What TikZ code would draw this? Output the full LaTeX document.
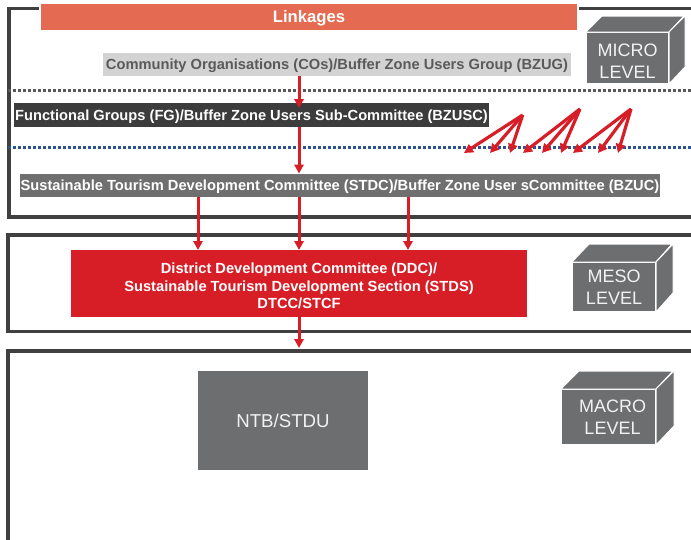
\documentclass[tikz,border=0pt]{standalone}
\usepackage{fontspec}
\setmainfont{Liberation Sans}
\usetikzlibrary{arrows.meta,calc}
\definecolor{frameg}{HTML}{404040}
\definecolor{linkc}{HTML}{E46B51}
\definecolor{cobg}{HTML}{D3D3D3}
\definecolor{cotxt}{HTML}{5A5A5A}
\definecolor{fgbg}{HTML}{3C3C3C}
\definecolor{stbg}{HTML}{6F6F6F}
\definecolor{ddcred}{HTML}{D71E26}
\definecolor{cubeg}{HTML}{6D6E70}
\definecolor{dotg}{HTML}{595959}
\definecolor{dotb}{HTML}{2E5395}
\newdimen\pu \pu=0.75pt
\begin{document}
\begin{tikzpicture}[x=0.75pt,y=-0.75pt,
  frameline/.style={draw=frameg,line width=2.8pt},
  box/.style={inner sep=0pt,outer sep=0pt,align=center,font=\bfseries\fontsize{11}{13}\selectfont},
  onebox/.style={box,text height=7.9pt,text depth=0pt},
  arr/.style={draw=ddcred,line width=2.25pt,-{Triangle[length=6.75pt,width=7pt]}},
  fanarr/.style={draw=ddcred,line width=2.4pt,-{Triangle[length=6.75pt,width=7pt]}},
  dotline/.style={line width=2.25pt,dash pattern=on 2.25pt off 1.5pt},
  cubeface/.style={fill=cubeg,draw=white,line width=0.75pt},
  lvl/.style={cubeface,inner sep=0pt,align=center,text=white!95!black,font=\fontsize{13.5}{16.8}\selectfont}]
\useasboundingbox (0,0) rectangle (691,539);
% frames
\draw[frameline] (691,8.5) -- (9,8.5) -- (9,217) -- (700,217);
\draw[frameline] (700,235) -- (8,235) -- (8,331.5) -- (700,331.5);
\draw[frameline] (700,351) -- (8,351) -- (8,545);
% dotted separators
\draw[dotline,draw=dotg] (8,90) -- (691,90);
\draw[dotline,draw=dotb] (8,147.5) -- (691,147.5);
% boxes
\node[box,fill=linkc,draw=white,line width=1.5pt,text=white,minimum width=538\pu,minimum height=28\pu,font=\bfseries\fontsize{12.5}{14}\selectfont,text height=8.9pt,text depth=0pt] (link) at (309,16.5) {Linkages};
\node[onebox,fill=cobg,text=cotxt,minimum width=468\pu,minimum height=23\pu] (co) at (337,64.5) {Community Organisations (COs)/Buffer Zone Users Group (BZUG)};
\node[onebox,fill=fgbg,text=white,minimum width=475\pu,minimum height=24\pu] (fg) at (251.5,115) {Functional Groups (FG)/Buffer Zone Users Sub-Committee (BZUSC)};
\node[onebox,fill=stbg,text=white,minimum width=640\pu,minimum height=23\pu] (stdc) at (340,185) {Sustainable Tourism Development Committee (STDC)/Buffer Zone User sCommittee (BZUC)};
\node[box,fill=ddcred,text=white,minimum width=456\pu,minimum height=67\pu,font=\bfseries\fontsize{11}{13.1}\selectfont] (ddc) at (299,283.5) {\rule{0pt}{12pt}District Development Committee (DDC)/\\Sustainable Tourism Development Section (STDS)\\DTCC/STCF};
\node[box,fill=cubeg,text=white!95!black,font=\fontsize{14}{16}\selectfont,text height=10pt,text depth=0pt,minimum width=170\pu,minimum height=99\pu] (ntb) at (283,420.5) {NTB/STDU};
% cubes
\node[lvl,minimum width=82\pu,minimum height=51\pu,anchor=north west] (micro) at (586,32) {\rule{0pt}{14pt}MICRO\\LEVEL};
\filldraw[cubeface] (micro.north west) -- ++(16,-16) -- ++(82,0) -- (micro.north east) -- cycle;
\filldraw[cubeface] (micro.north east) -- ++(16,-16) -- ++(0,51) -- (micro.south east) -- cycle;
\node[lvl,minimum width=83\pu,minimum height=49\pu,anchor=north west] (meso) at (572,262) {MESO\\LEVEL};
\filldraw[cubeface] (meso.north west) -- ++(17,-18) -- ++(83,0) -- (meso.north east) -- cycle;
\filldraw[cubeface] (meso.north east) -- ++(17,-18) -- ++(0,49) -- (meso.south east) -- cycle;
\node[lvl,minimum width=94\pu,minimum height=55\pu,anchor=north west] (macro) at (561,389) {\hspace*{6pt}MACRO\\\hspace*{6pt}LEVEL};
\filldraw[cubeface] (macro.north west) -- ++(18,-18) -- ++(94,0) -- (macro.north east) -- cycle;
\filldraw[cubeface] (macro.north east) -- ++(18,-18) -- ++(0,55) -- (macro.south east) -- cycle;
% columns for vertical arrows
\coordinate (c1) at (198,0);
\coordinate (c2) at (299,0);
\coordinate (c3) at (408,0);
\coordinate (mtop) at (299,348);
\draw[arr] (co.south -| c2) -- ($(fg.north -| c2)+(0,5)$);
\draw[arr] (fg.south -| c2) -- (stdc.north -| c2);
\draw[arr] (stdc.south -| c1) -- (ddc.north -| c1);
\draw[arr] (stdc.south -| c2) -- (ddc.north -| c2);
\draw[arr] (stdc.south -| c3) -- (ddc.north -| c3);
\draw[arr] (ddc.south) -- (mtop);
% fan arrows
\coordinate (a1) at (522.7,115);
\coordinate (a2) at (580,109);
\coordinate (a3) at (631,109);
\coordinate (t11) at (464,153);
\coordinate (t12) at (490,153);
\coordinate (t13) at (510,153);
\coordinate (t21) at (523,153);
\coordinate (t22) at (542,153);
\coordinate (t23) at (561,153);
\coordinate (t31) at (573,153);
\coordinate (t32) at (598,153);
\coordinate (t33) at (618,153);
\foreach \a/\t in {a1/t11,a1/t12,a1/t13,a2/t21,a2/t22,a2/t23,a3/t31,a3/t32,a3/t33}
  \draw[fanarr] (\a) -- (\t);
\end{tikzpicture}
\end{document}
